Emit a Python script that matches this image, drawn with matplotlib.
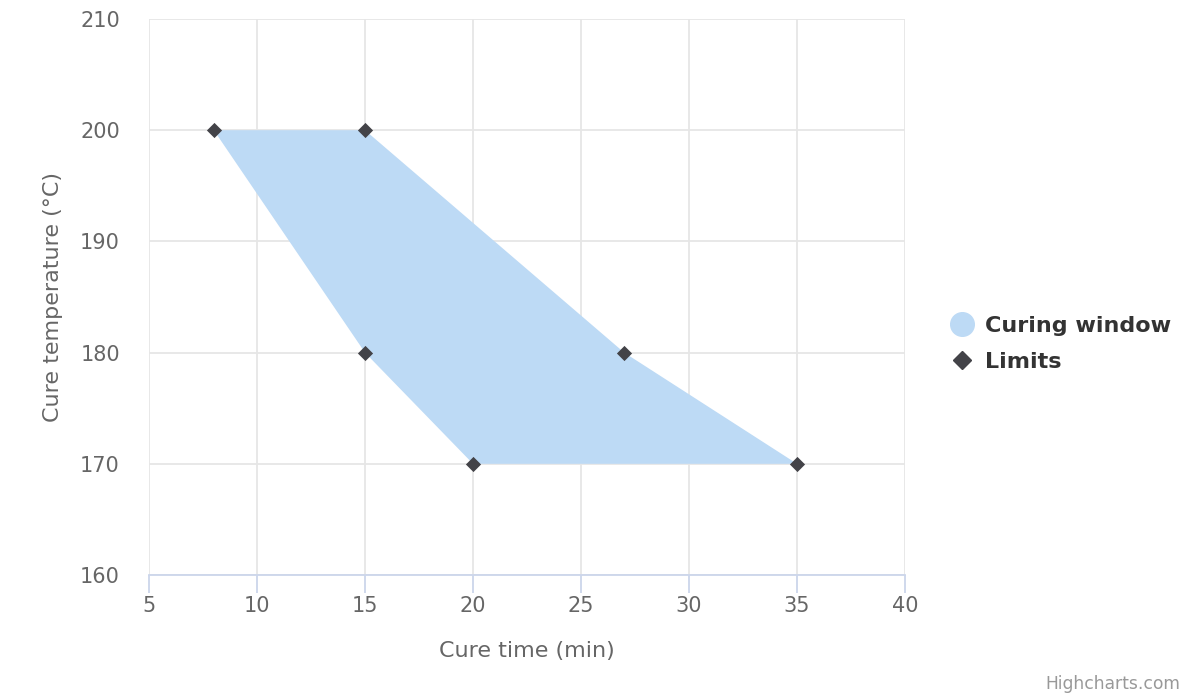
import matplotlib.pyplot as plt
from matplotlib.lines import Line2D

# polygon corners (cure time, cure temperature)
window_time = [8, 15, 27, 35, 20, 15]
window_temp = [200, 200, 180, 170, 170, 180]

# the limit points
limit_time = [8, 15, 15, 20, 27, 35]
limit_temp = [200, 200, 180, 170, 180, 170]

x_ticks = [5, 10, 15, 20, 25, 30, 35, 40]
y_ticks = [160, 170, 180, 190, 200, 210]

plt.rcParams['font.family'] = ['DejaVu Sans']

fig = plt.figure(figsize=(12, 7), dpi=100)
ax = fig.add_axes([149 / 1200, 1 - 575 / 700, 756 / 1200, 556 / 700])

fill_col = '#bddaf5'
mark_col = '#434348'

ax.fill(window_time, window_temp, color=fill_col, lw=0, zorder=2)
ax.scatter(limit_time, limit_temp, marker='D', s=60, color=mark_col, zorder=3, lw=0)

ax.set_xlim(5, 40)
ax.set_ylim(160, 210)
ax.set_xticks(x_ticks)
ax.set_yticks(y_ticks)

ax.grid(True, color='#e6e6e6', lw=1.3)
ax.set_axisbelow(True)
for s in ['top', 'right', 'left']:
    ax.spines[s].set_visible(False)
ax.spines['bottom'].set_color('#ccd6eb')
ax.spines['bottom'].set_linewidth(1.3)

ax.tick_params(axis='x', colors='#ccd6eb', length=13, width=1.3, labelcolor='#666666', labelsize=15, pad=2)
ax.tick_params(axis='y', length=0, labelcolor='#666666', labelsize=15, pad=21)

ax.set_xlabel('Cure time (min)', color='#666666', fontsize=16, labelpad=18)
ax.set_ylabel('Cure temperature (°C)', color='#666666', fontsize=16, labelpad=12)

handles = [
    Line2D([], [], marker='o', ls='', color=fill_col, markersize=17),
    Line2D([], [], marker='D', ls='', color=mark_col, markersize=9),
]
leg = fig.legend(handles, ['Curing window', 'Limits'], loc='center left',
                 bbox_to_anchor=(925 / 1200, 1 - 344 / 700), frameon=False,
                 prop={'weight': 'bold', 'size': 16}, handletextpad=0.3,
                 labelspacing=0.7, handlelength=1.5)
for t in leg.get_texts():
    t.set_color('#333333')

fig.text(1180 / 1200, 1 - 684 / 700, 'Highcharts.com', ha='right', va='center',
         color='#999999', fontsize=12.3)

fig.savefig('out.png')
